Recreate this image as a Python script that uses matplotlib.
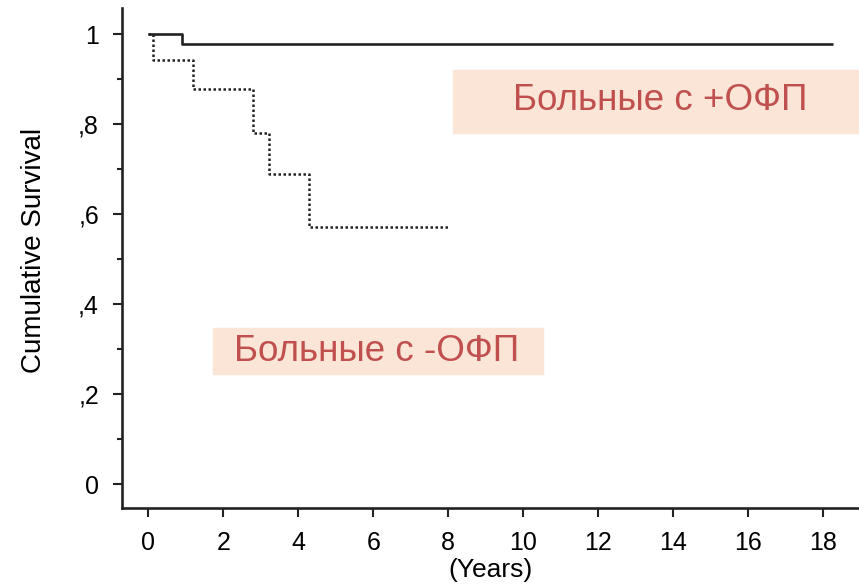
import matplotlib
matplotlib.use("Agg")
import matplotlib.pyplot as plt
from matplotlib.patches import Rectangle
from matplotlib.ticker import MultipleLocator

# Kaplan-Meier style curves (years, cumulative survival)
plus_t = [0, 0.9, 18.25]
plus_s = [1.0, 0.978, 0.978]
minus_t = [0, 0.12, 1.19, 2.8, 3.21, 4.28, 7.98]
minus_s = [1.0, 0.943, 0.879, 0.781, 0.689, 0.572, 0.572]

x_ticks = list(range(0, 19, 2))
y_ticks = [0, 0.2, 0.4, 0.6, 0.8, 1.0]
y_ticklabels = ["0", ",2", ",4", ",6", ",8", "1"]

label_plus = "Больные с +ОФП"
label_minus = "Больные с -ОФП"

plt.rcParams['font.family'] = ['Liberation Sans', 'DejaVu Sans']
line_col = "#222222"
box_col = "#fbe5d6"
txt_col = "#c0504d"

fig = plt.figure(figsize=(8.59, 5.87), dpi=100)
ax = fig.add_axes([0.142, 0.1346, 0.858, 0.8518])

ax.step(plus_t, plus_s, where='post', color=line_col, lw=1.9,
        solid_capstyle='butt')
ax.step(minus_t, minus_s, where='post', color=line_col, lw=1.8,
        linestyle=(0, (1, 1)))

ax.set_xlim(-0.70, 18.95)
ax.set_ylim(-0.053, 1.058)
ax.set_xticks(x_ticks)
ax.set_yticks(y_ticks)
ax.set_yticklabels(y_ticklabels)
ax.yaxis.set_minor_locator(MultipleLocator(0.1))

for s in ['top', 'right']:
    ax.spines[s].set_visible(False)
for s in ['left', 'bottom']:
    ax.spines[s].set_linewidth(1.9)
    ax.spines[s].set_color(line_col)

ax.tick_params(which='major', length=6.5, width=1.5, color=line_col,
               labelsize=18, pad=10)
ax.tick_params(axis='y', which='minor', length=3.5, width=1.5, color=line_col)

ax.set_xlabel("(Years)", fontsize=19, labelpad=2.5)
ax.set_ylabel("Cumulative Survival", fontsize=20)
ax.yaxis.set_label_coords(-0.102, 0.516)

# annotation boxes
fig.add_artist(Rectangle((0.5274, 0.7734), 0.4726, 0.1073,
                         transform=fig.transFigure, color=box_col, zorder=5))
fig.add_artist(Rectangle((0.248, 0.3629), 0.384, 0.0784,
                         transform=fig.transFigure, color=box_col, zorder=5))
fig.text(0.7683, 0.828, label_plus, ha='center', va='center',
         fontsize=26.5, color=txt_col, zorder=6)
fig.text(0.4389, 0.402, label_minus, ha='center', va='center',
         fontsize=26.5, color=txt_col, zorder=6)

fig.savefig("out.png", dpi=100)
